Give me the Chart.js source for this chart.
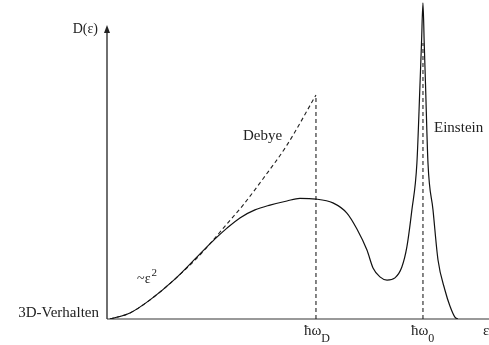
<!DOCTYPE html>
<html>
<head>
<meta charset="utf-8">
<script src="https://cdn.jsdelivr.net/npm/chart.js@4/dist/chart.umd.min.js"></script>
<style>
html,body{margin:0;padding:0;background:#fff;}
#wrap{width:489px;height:345px;}
</style>
</head>
<body>
<div id="wrap"><canvas id="c" width="489" height="345"></canvas></div>
<script>
// ---- data (energy ε in units of ħω_D, density of states D in arbitrary units) ----
const debyeEps = [0.014, 0.110, 0.206, 0.325, 0.445, 0.574, 0.651, 0.746, 0.861, 1.000];
const debyeD   = [0,     1.9,   6.0,   12.5,  20.1,  29.8,  35.7,  43.9,  54.5,  70.2];

const dosEps = [0.014, 0.110, 0.206, 0.325, 0.445, 0.517, 0.574, 0.636, 0.708, 0.780,
                0.861, 0.923, 1.000, 1.081, 1.148, 1.196, 1.244, 1.273, 1.306, 1.340,
                1.378, 1.411, 1.435, 1.459, 1.483, 1.498, 1.505, 1.512, 1.518, 1.524,
                1.536, 1.560, 1.584, 1.617, 1.641, 1.665, 1.679];
const dosD   = [0,     1.9,   6.0,   12.5,  20.4,  25.1,  28.5,  31.7,  34.2,  35.7,
                37.0,  37.8,  37.6,  36.4,  33.2,  28.2,  21.6,  16.0,  13.2,  12.2,
                12.9,  16.3,  22.6,  34.2,  48.9,  74.0,  86.5,  99.1,  86.5,  74.0,
                48.9,  34.2,  18.5,  9.1,   4.1,   0.6,   0];

const markEps    = [1.000, 1.512];          // ħω_D, ħω_0
const markTop    = [70.2, 86.5];
const markLabels = ['ħω', 'ħω'];
const markSubs   = ['D', '0'];

const axisXLabel = 'ε';
const axisYLabel = 'D(ε)';
const textLabels = ['Debye', 'Einstein', '~ε', '3D-Verhalten'];

// ---- build datasets ----
const pts = (xs, ys) => xs.map((x, i) => ({x: x, y: ys[i]}));

const datasets = [
  {data: pts(dosEps, dosD), borderColor: '#111', borderWidth: 1.2, cubicInterpolationMode: 'monotone'},
  {data: pts(debyeEps, debyeD), borderColor: '#222', borderWidth: 1.1, borderDash: [4, 3], cubicInterpolationMode: 'monotone'}
];
markEps.forEach((e, i) => {
  datasets.push({data: [{x: e, y: 0}, {x: e, y: markTop[i]}], borderColor: '#222', borderWidth: 1.1, borderDash: [4, 3]});
});

const SERIF = '"Liberation Serif", "Times New Roman", serif';

const decor = {
  id: 'decor',
  beforeDatasetsDraw(chart) {
    const {ctx} = chart;
    const xs = chart.scales.x, ys = chart.scales.y;
    const x0 = xs.getPixelForValue(0), y0 = ys.getPixelForValue(0);
    ctx.save();
    // x axis
    ctx.strokeStyle = '#777';
    ctx.lineWidth = 1.6;
    ctx.beginPath();
    ctx.moveTo(x0, y0);
    ctx.lineTo(chart.width, y0);
    ctx.stroke();
    // y axis with arrow
    const yTop = ys.getPixelForValue(92.2);
    ctx.strokeStyle = '#222';
    ctx.lineWidth = 1.3;
    ctx.beginPath();
    ctx.moveTo(x0, y0);
    ctx.lineTo(x0, yTop + 4);
    ctx.stroke();
    ctx.fillStyle = '#222';
    ctx.beginPath();
    ctx.moveTo(x0, yTop);
    ctx.lineTo(x0 - 3, yTop + 8);
    ctx.lineTo(x0 + 3, yTop + 8);
    ctx.closePath();
    ctx.fill();
    ctx.restore();
  },
  afterDraw(chart) {
    const {ctx} = chart;
    const xs = chart.scales.x, ys = chart.scales.y;
    const px = v => xs.getPixelForValue(v), py = v => ys.getPixelForValue(v);
    const x0 = px(0);
    ctx.save();
    ctx.fillStyle = '#222';
    ctx.textBaseline = 'alphabetic';
    // y axis label
    ctx.font = '14px ' + SERIF;
    ctx.textAlign = 'right';
    ctx.fillText(axisYLabel, x0 - 9, py(89.7));
    // 3D-Verhalten
    ctx.font = '15px ' + SERIF;
    ctx.fillText(textLabels[3], x0 - 8, py(0.6));
    // Debye / Einstein
    ctx.textAlign = 'left';
    ctx.fillText(textLabels[0], px(0.651), py(56.1));
    ctx.fillText(textLabels[1], px(1.565), py(58.6));
    // ~ε²
    ctx.font = '14px ' + SERIF;
    ctx.fillText(textLabels[2], px(0.144), py(11.3));
    const w = ctx.measureText(textLabels[2]).width;
    ctx.font = '11px ' + SERIF;
    ctx.fillText('2', px(0.144) + w + 1, py(13.6));
    // marker tick labels
    markEps.forEach((e, i) => {
      ctx.font = '15px ' + SERIF;
      const x = px(e) - 12;
      ctx.fillText(markLabels[i], x, py(-5.0));
      const mw = ctx.measureText(markLabels[i]).width;
      ctx.font = '12px ' + SERIF;
      ctx.fillText(markSubs[i], x + mw, py(-7.2));
    });
    // ε axis label
    ctx.font = '15px ' + SERIF;
    ctx.fillText(axisXLabel, px(1.799), py(-5.0));
    ctx.restore();
  }
};

new Chart(document.getElementById('c'), {
  type: 'line',
  data: {datasets: datasets},
  options: {
    responsive: false,
    animation: false,
    events: [],
    layout: {padding: {left: 107, right: 0, top: 0, bottom: 26}},
    elements: {point: {radius: 0}, line: {fill: false}},
    plugins: {legend: {display: false}, tooltip: {enabled: false}},
    scales: {
      x: {type: 'linear', min: 0, max: 1.828, display: false},
      y: {type: 'linear', min: 0, max: 100, display: false}
    }
  },
  plugins: [decor]
});
</script>
</body>
</html>
